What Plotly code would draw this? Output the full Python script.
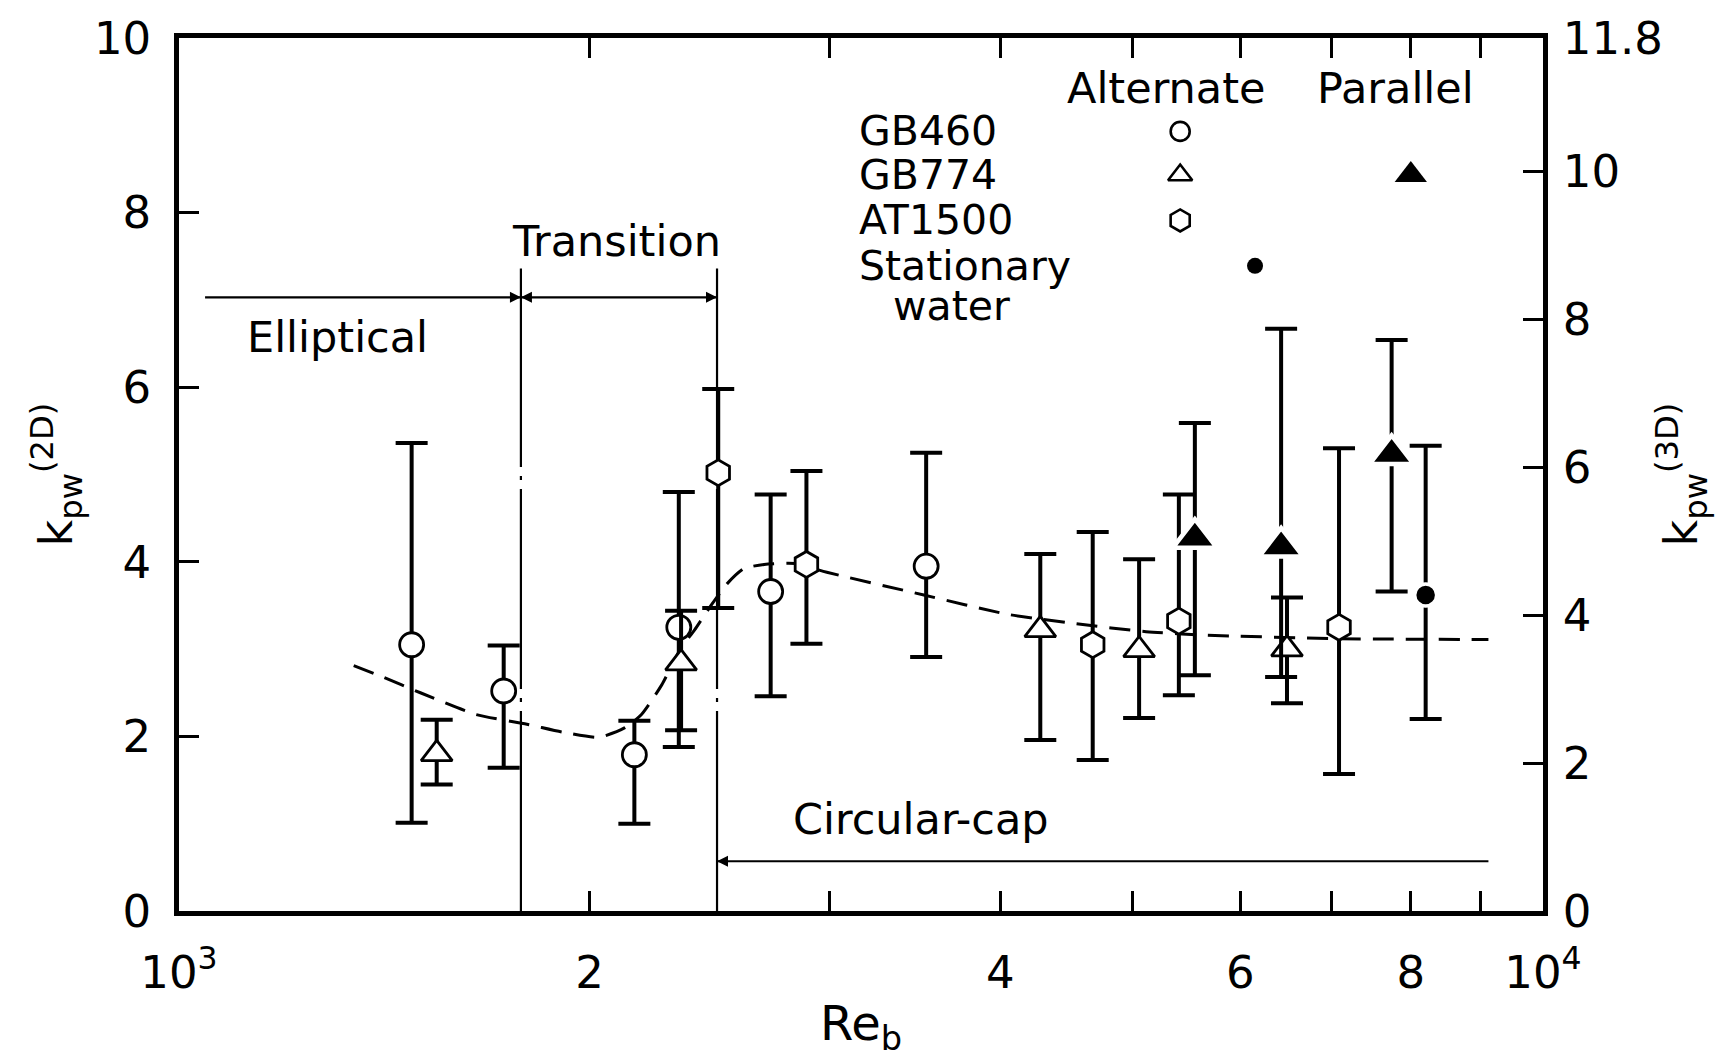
import numpy as np
import plotly.graph_objects as go

# ---------------- data ----------------
# GB460, alternate (open circles)
gb460_re = [1481, 1730, 2157, 2325, 2715, 3530]
gb460_k = [3.05, 2.52, 1.79, 3.25, 3.66, 3.95]
gb460_hi = [5.36, 3.04, 2.18, 4.80, 4.77, 5.25]
gb460_lo = [1.01, 1.64, 1.00, 1.88, 2.46, 2.91]

# GB774, alternate (open triangles)
gb774a_re = [1545, 2334, 4280, 5057, 6491]
gb774a_k = [1.80, 2.84, 3.22, 2.99, 3.00]
gb774a_hi = [2.19, 3.44, 4.09, 4.03, 3.59]
gb774a_lo = [1.45, 2.07, 1.96, 2.21, 2.38]

# AT1500, alternate (open hexagons)
at1500_re = [2485, 2884, 4676, 5408, 7087]
at1500_k = [5.02, 3.97, 3.05, 3.32, 3.25]
at1500_hi = [5.98, 5.04, 4.34, 4.77, 5.30]
at1500_lo = [3.47, 3.06, 1.73, 2.47, 1.57]

# GB774, parallel (filled triangles)
gb774p_re = [5556, 6427, 7745]
gb774p_k = [4.27, 4.17, 5.23]
gb774p_hi = [5.59, 6.67, 6.54]
gb774p_lo = [2.70, 2.68, 3.66]

# Stationary water (filled circle)
still_re = [8203]
still_k = [3.62]
still_hi = [5.33]
still_lo = [2.20]

# dashed trend curve
curve_re = [1343, 1406, 1503, 1652, 1799, 1910, 2032, 2123, 2183, 2259, 2333, 2388,
            2455, 2523, 2594, 2685, 2831, 2985, 3516, 4046, 4550, 5117, 5662, 7063, 9120]
curve_k = [2.81, 2.69, 2.50, 2.25, 2.14, 2.05, 1.99, 2.10, 2.25, 2.59, 3.01, 3.22,
           3.50, 3.75, 3.92, 3.97, 3.98, 3.88, 3.62, 3.40, 3.29, 3.20, 3.16, 3.12, 3.11]

# flow-regime boundaries
re_ell_start = 1045
re_trans = 1781
re_cap = 2480
re_cap_end = 9120
k_regime_line = 7.03
k_cap_line = 0.57
k_vline_top = 7.36

# axis ticks
x_tickvals = [1000, 2000, 4000, 6000, 8000, 10000]
x_ticktext = ["10<sup>3</sup>", "2", "4", "6", "8", "10<sup>4</sup>"]
x_minor_tickvals = [3000, 5000, 7000, 9000]
y_tickvals = [0, 2, 4, 6, 8, 10]
y2_tickvals = [0, 2, 4, 6, 8, 10, 11.8]
y2_ticktext = ["0", "2", "4", "6", "8", "10", "11.8"]

# legend block (in data coordinates)
legend_names = ["GB460", "GB774", "AT1500", "Stationary", "water"]
legend_name_re = [3139, 3139, 3139, 3139, 3326]
legend_rows_k = [8.93, 8.43, 7.91, 7.39, 6.93]
key_alt_re = 5420
key_par_re = 8000
key_still_re = 6150

FONT = "DejaVu Sans"
BLACK = "black"

fig = go.Figure()

# dashed curve
fig.add_trace(go.Scatter(x=curve_re, y=curve_k, mode="lines",
                         line=dict(color=BLACK, width=3, dash="21px,12px", shape="spline", smoothing=0.6),
                         showlegend=False, hoverinfo="skip"))

# regime lines
dashdot = "200px,9px,4px,9px"
fig.add_trace(go.Scatter(x=[re_trans, re_trans], y=[0, k_vline_top], mode="lines",
                         line=dict(color=BLACK, width=2.2, dash=dashdot), showlegend=False, hoverinfo="skip"))
fig.add_trace(go.Scatter(x=[re_cap, re_cap], y=[0, k_vline_top], mode="lines",
                         line=dict(color=BLACK, width=2.2, dash=dashdot), showlegend=False, hoverinfo="skip"))
fig.add_trace(go.Scatter(x=[re_ell_start, re_cap], y=[k_regime_line, k_regime_line], mode="lines",
                         line=dict(color=BLACK, width=2.2), showlegend=False, hoverinfo="skip"))
fig.add_trace(go.Scatter(x=[re_cap, re_cap_end], y=[k_cap_line, k_cap_line], mode="lines",
                         line=dict(color=BLACK, width=2.2), showlegend=False, hoverinfo="skip"))
# arrow heads
fig.add_trace(go.Scatter(x=[re_trans, re_cap], y=[k_regime_line, k_regime_line], mode="markers",
                         marker=dict(symbol="arrow-right", size=11, color=BLACK),
                         showlegend=False, hoverinfo="skip"))
fig.add_trace(go.Scatter(x=[re_trans, re_cap], y=[k_regime_line, k_cap_line], mode="markers",
                         marker=dict(symbol="arrow-left", size=11, color=BLACK),
                         showlegend=False, hoverinfo="skip"))


def add_series(re, k, hi, lo, symbol, size, fill, line_color, line_w, name):
    k_arr = np.array(k)
    fig.add_trace(go.Scatter(
        x=re, y=k, mode="markers", name=name, showlegend=False,
        marker=dict(symbol=symbol, size=size, color=fill, line=dict(color=line_color, width=line_w)),
        error_y=dict(type="data", symmetric=False,
                     array=list(np.array(hi) - k_arr), arrayminus=list(k_arr - np.array(lo)),
                     color=BLACK, thickness=4, width=16)))


add_series(gb460_re, gb460_k, gb460_hi, gb460_lo, "circle", 24, "white", BLACK, 2.8, "GB460 alternate")
add_series(gb774a_re, gb774a_k, gb774a_hi, gb774a_lo, "triangle-up", 27, "white", BLACK, 2.8, "GB774 alternate")
add_series(at1500_re, at1500_k, at1500_hi, at1500_lo, "hexagon", 26, "white", BLACK, 2.8, "AT1500 alternate")
add_series(gb774p_re, gb774p_k, gb774p_hi, gb774p_lo, "triangle-up", 38, BLACK, "white", 4.5, "GB774 parallel")
add_series(still_re, still_k, still_hi, still_lo, "circle", 22, BLACK, "white", 3.5, "Stationary water")

# legend keys
fig.add_trace(go.Scatter(x=[key_alt_re], y=[legend_rows_k[0]], mode="markers", showlegend=False,
                         marker=dict(symbol="circle", size=19, color="white", line=dict(color=BLACK, width=2.6))))
fig.add_trace(go.Scatter(x=[key_alt_re], y=[legend_rows_k[1]], mode="markers", showlegend=False,
                         marker=dict(symbol="triangle-up", size=21, color="white", line=dict(color=BLACK, width=2.6))))
fig.add_trace(go.Scatter(x=[key_alt_re], y=[legend_rows_k[2]], mode="markers", showlegend=False,
                         marker=dict(symbol="hexagon", size=22, color="white", line=dict(color=BLACK, width=2.6))))
fig.add_trace(go.Scatter(x=[key_par_re], y=[legend_rows_k[1]], mode="markers", showlegend=False,
                         marker=dict(symbol="triangle-up", size=28, color=BLACK)))
fig.add_trace(go.Scatter(x=[key_still_re], y=[legend_rows_k[3]], mode="markers", showlegend=False,
                         marker=dict(symbol="circle", size=16, color=BLACK)))

# dummy trace to activate y2
fig.add_trace(go.Scatter(x=[1000], y=[0], yaxis="y2", mode="markers", marker=dict(opacity=0),
                         showlegend=False, hoverinfo="skip"))

ann_font = dict(family=FONT, size=43, color=BLACK)
legend_font = dict(family=FONT, size=41, color=BLACK)
annotations = [
    dict(x=np.log10(1306), y=6.57, text="Elliptical"),
    dict(x=np.log10(2092), y=7.68, text="Transition"),
    dict(x=np.log10(3500), y=1.05, text="Circular-cap"),
    dict(x=np.log10(5300), y=9.43, text="Alternate"),
    dict(x=np.log10(7800), y=9.43, text="Parallel"),
]
for a in annotations:
    fig.add_annotation(x=a["x"], y=a["y"], text=a["text"], showarrow=False, xref="x", yref="y",
                       font=ann_font, xanchor="center", yanchor="middle")
for name, rr, kk in zip(legend_names, legend_name_re, legend_rows_k):
    fig.add_annotation(x=np.log10(rr), y=kk, text=name, showarrow=False, xref="x", yref="y",
                       font=legend_font, xanchor="left", yanchor="middle")

tick_font = dict(family=FONT, size=45, color=BLACK)
fig.update_layout(
    width=1715, height=1060,
    margin=dict(l=179, r=157, t=33, b=149),
    paper_bgcolor="white", plot_bgcolor="white",
    showlegend=False,
    xaxis=dict(type="log", range=[3, 4], tickvals=x_tickvals, ticktext=x_ticktext,
               ticks="inside", ticklen=20, tickwidth=2.8, tickcolor=BLACK,
               minor=dict(tickvals=x_minor_tickvals, ticks="inside", ticklen=20, tickwidth=2.8,
                          tickcolor=BLACK, showgrid=False),
               showline=True, linewidth=4.5, linecolor=BLACK, mirror="ticks",
               showgrid=False, zeroline=False, tickfont=tick_font, ticklabelstandoff=18,
               title=dict(text="Re<sub>b</sub>", font=dict(family=FONT, size=48, color=BLACK), standoff=10)),
    yaxis=dict(range=[0, 10], tickvals=y_tickvals, ticks="inside", ticklen=20, tickwidth=2.8,
               tickcolor=BLACK, showline=True, linewidth=4.5, linecolor=BLACK, showgrid=False,
               zeroline=False, tickfont=tick_font, ticklabelstandoff=14,
               title=dict(text="k<sub>pw</sub><sup>(2D)</sup>", font=dict(family=FONT, size=46, color=BLACK),
                          standoff=8)),
    yaxis2=dict(range=[0, 11.8], overlaying="y", side="right", tickvals=y2_tickvals, ticktext=y2_ticktext,
                ticks="inside", ticklen=20, tickwidth=2.8, tickcolor=BLACK, showline=True, linewidth=4.5,
                linecolor=BLACK, showgrid=False, zeroline=False, tickfont=tick_font, ticklabelstandoff=6,
                title=dict(text="k<sub>pw</sub><sup>(3D)</sup>", font=dict(family=FONT, size=46, color=BLACK),
                           standoff=8)),
)

fig.write_html("out.html")
